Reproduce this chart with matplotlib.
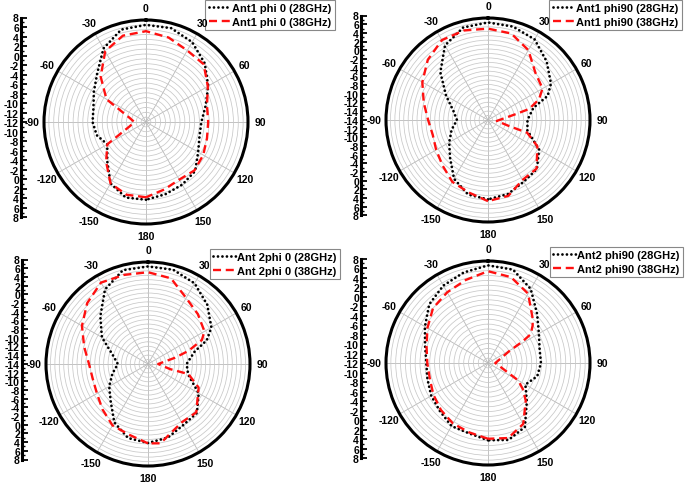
"""
Four polar radiation patterns (Ant1/Ant2, phi 0/90) at 28 and 38 GHz,
drawn Origin-style: radial scale repeated as a vertical axis on the left.
"""

import numpy as np
import matplotlib
matplotlib.use("Agg")
import matplotlib.pyplot as plt
from matplotlib.lines import Line2D

plt.rcParams["font.family"] = ["Liberation Sans", "DejaVu Sans"]
plt.rcParams["font.weight"] = "bold"
plt.rcParams["axes.unicode_minus"] = False

W, H = 685, 485

# --- data: angle in degrees (0 = top, clockwise), gain in dB ---
ANG15 = [-180, -165, -150, -135, -120, -105, -90, -75, -60, -45, -30, -15,
         0, 15, 30, 45, 60, 75, 90, 105, 120, 135, 150, 165, 180]

# Ant1 phi 0
ang_a1p0_28 = ANG15
db_a1p0_28 = [3.0, 3.1, 1.6, -1.7, -3.8, -2.5, -2.0, -1.8, -0.6, 1.2, 4.5, 6.7,
              7.0, 7.0, 6.0, 4.1, 1.8, -0.3, -1.6, -1.6, -0.6, 1.3, 1.9, 2.4, 3.0]
ang_a1p0_38 = ANG15
db_a1p0_38 = [2.5, 2.5, 1.6, -1.4, -3.8, -9.5, -10.6, -9.4, -3.6, 0.2, 3.8, 5.4,
              5.7, 5.0, 4.0, 3.8, 1.7, 0.0, -0.2, 0.0, 0.6, 1.1, 0.7, 1.4, 2.5]

# Ant1 phi 90
ang_a1p90_28 = [-180, -165, -150, -135, -120, -105, -90, -75, -60, -45, -30, -15,
                0, 15, 30, 45, 60, 68, 75, 90, 105, 120, 135, 150, 165, 180]
db_a1p90_28 = [2.9, 2.4, 0.3, -2.9, -4.9, -6.5, -8.0, -6.9, -4.1, 0.2, 4.4, 6.6,
               7.0, 6.8, 6.0, 3.7, 1.4, -0.5, -4.4, -6.1, -5.8, -1.7, 0.6, 1.1, 2.3, 2.9]
ang_a1p90_38 = [-180, -165, -150, -135, -120, -105, -90, -75, -60, -45, -30, -15,
                0, 15, 30, 45, 60, 68, 75, 78, 96, 106, 108, 118, 135, 150, 165, 180]
db_a1p90_38 = [3.3, 1.9, 1.1, -0.5, -1.5, -2.1, -1.5, 0.0, 2.1, 4.2, 5.8, 5.9,
               5.6, 5.2, 3.2, 0.1, -0.8, -2.6, -5.4, -8.6, -13.0, -10.1, -5.7, -2.4,
               0.5, 0.6, 2.7, 3.3]

# Ant2 phi 0
ang_a2p0_28 = [-180, -165, -150, -135, -120, -105, -90, -75, -60, -45, -30, -15,
               0, 15, 30, 45, 60, 68, 75, 90, 105, 120, 135, 150, 165, 180]
db_a2p0_28 = [2.8, 2.3, 0.2, -3.1, -4.9, -6.7, -8.2, -6.7, -3.0, 0.2, 4.4, 6.9,
              7.0, 7.0, 6.0, 3.9, 1.5, -0.7, -4.1, -6.3, -5.6, -1.8, 0.6, 0.9, 2.2, 2.8]
ang_a2p0_38 = [-180, -165, -150, -135, -120, -105, -90, -75, -60, -45, -30, -15,
               0, 15, 30, 45, 60, 66, 72, 77, 90, 103, 104, 115, 135, 150, 165, 171, 180]
db_a2p0_38 = [2.9, 1.5, 1.0, -0.5, -1.7, -2.1, -1.7, -0.1, 2.2, 4.4, 6.2, 5.8,
              5.7, 5.0, 2.2, 0.9, -0.3, -1.7, -5.4, -8.8, -12.7, -9.9, -5.6, -2.4,
              0.4, 0.2, 1.9, 3.1, 2.9]

# Ant2 phi 90
ang_a2p90_28 = ANG15
db_a2p90_28 = [2.9, 2.0, 2.0, 1.0, 0.5, -0.1, -0.3, 0.4, 2.0, 4.1, 5.4, 6.3,
               7.1, 6.9, 4.6, 1.3, -0.9, -2.0, -2.1, -2.5, -4.1, -1.7, 2.2, 3.4, 2.9]
ang_a2p90_38 = [-180, -165, -150, -135, -120, -105, -90, -75, -60, -45, -30, -15,
                0, 15, 30, 45, 50, 56, 58, 61, 75, 90, 100, 110, 120, 127, 135,
                150, 165, 180]
db_a2p90_38 = [2.6, 1.8, 1.4, 0.7, 0.0, -0.6, -0.5, 0.1, 1.4, 3.0, 3.8, 4.7,
               5.9, 5.3, 3.5, 0.0, -1.0, -2.4, -4.5, -8.1, -10.7, -11.5, -11.0, -9.9,
               -5.8, -4.0, -2.0, 1.5, 3.0, 2.6]

labels_a1p0 = ["Ant1 phi 0 (28GHz)", "Ant1 phi 0 (38GHz)"]
labels_a1p90 = ["Ant1 phi90 (28GHz)", "Ant1 phi90 (38GHz)"]
labels_a2p0 = ["Ant 2phi 0 (28GHz)", "Ant 2phi 0 (38GHz)"]
labels_a2p90 = ["Ant2 phi90 (28GHz)", "Ant2 phi90 (38GHz)"]

theta_ticks = [0, 30, 60, 90, 120, 150, 180, 210, 240, 270, 300, 330]
theta_labels = ["0", "30", "60", "90", "120", "150", "180",
                "-150", "-120", "-90", "-60", "-30"]

R_MAX = 8

# --- layout (pixels in the 685x485 canvas) ---
PANELS = [
    dict(c=(146, 123), rmin=-13, axis_x=21, leg=(335, 1),
         s28=(ang_a1p0_28, db_a1p0_28), s38=(ang_a1p0_38, db_a1p0_38), labels=labels_a1p0),
    dict(c=(488, 121), rmin=-15, axis_x=361, leg=(682, 1),
         s28=(ang_a1p90_28, db_a1p90_28), s38=(ang_a1p90_38, db_a1p90_38), labels=labels_a1p90),
    dict(c=(148, 365), rmin=-15, axis_x=22, leg=(340, 250),
         s28=(ang_a2p0_28, db_a2p0_28), s38=(ang_a2p0_38, db_a2p0_38), labels=labels_a2p0),
    dict(c=(488, 364), rmin=-13, axis_x=361, leg=(683, 248),
         s28=(ang_a2p90_28, db_a2p90_28), s38=(ang_a2p90_38, db_a2p90_38), labels=labels_a2p90),
]
RADIUS = 102
LABEL_R = 114  # px from centre to theta label centre

STYLE_28 = dict(color="black", lw=2.0, linestyle=(0, (0.01, 1.6)),
                dash_capstyle="round")
STYLE_38 = dict(color="#ff1010", lw=1.7, linestyle=(0, (3.4, 2.0)),
                dash_capstyle="butt")


def polar_panel(fig, p):
    cx, cy = p["c"]
    rmin = p["rmin"]
    R = RADIUS
    ax = fig.add_axes([(cx - R) / W, 1 - (cy + R) / H, 2 * R / W, 2 * R / H],
                      projection="polar")
    ax.set_theta_zero_location("N")
    ax.set_theta_direction(-1)
    ax.set_ylim(rmin, R_MAX)

    ax.set_yticks(np.arange(rmin + 1, R_MAX))
    ax.set_yticklabels([])
    ax.yaxis.grid(True, color="#c8c8c8", lw=0.55)

    ax.set_xticks(np.deg2rad(theta_ticks))
    ax.set_xticklabels([])
    ax.set_xticks(np.deg2rad(np.arange(15, 360, 30)), minor=True)
    ax.xaxis.grid(True, which="major", color="#b8b8b8", lw=0.6)
    ax.xaxis.grid(False, which="minor")
    ax.tick_params(axis="x", which="major", direction="in", length=5, width=1.3)
    ax.tick_params(axis="x", which="minor", direction="in", length=3, width=1.0)
    ax.spines["polar"].set_linewidth(2.2)

    # theta labels centred on a fixed radius (Origin style)
    f = LABEL_R / (2 * R)
    for t, lab in zip(theta_ticks, theta_labels):
        a = np.deg2rad(t)
        ax.text(0.5 + f * np.sin(a), 0.5 + f * np.cos(a), lab, transform=ax.transAxes,
                ha="center", va="center", fontsize=7.5, fontweight="bold",
                clip_on=False, zorder=10)

    a28, d28 = p["s28"]
    a38, d38 = p["s38"]
    ax.plot(np.deg2rad(a28), d28, **STYLE_28)
    ax.plot(np.deg2rad(a38), d38, **STYLE_38)
    return ax


def left_axis(fig, p):
    cx, cy = p["c"]
    rmin = p["rmin"]
    cyl = cy - 4.5
    hh = 100
    axl = fig.add_axes([p["axis_x"] / W, 1 - (cyl + hh) / H, 0.5 / W, 2 * hh / H])
    span = R_MAX - rmin
    axl.set_ylim(-span, span)
    for s in ["top", "right", "bottom"]:
        axl.spines[s].set_visible(False)
    axl.spines["left"].set_linewidth(2.2)
    axl.patch.set_visible(False)
    axl.set_xticks([])
    vals = np.arange(R_MAX, rmin, -2)
    pos = vals - rmin
    axl.set_yticks(np.concatenate([pos, -pos[::-1]]))
    axl.set_yticklabels([str(v) for v in vals] + [str(v) for v in vals[::-1]])
    axl.set_yticks(np.arange(-span + 1, span, 2), minor=True)
    axl.tick_params(axis="y", which="major", direction="in", length=4, width=1.3,
                    pad=1.5, labelsize=7.5)
    axl.tick_params(axis="y", which="minor", direction="in", length=2.5, width=1.0)
    for lab in axl.get_yticklabels():
        lab.set_fontweight("bold")


def legend(fig, ax, p):
    handles = [Line2D([], [], **STYLE_28), Line2D([], [], **STYLE_38)]
    x1, y0 = p["leg"]
    leg = ax.legend(handles, p["labels"], loc="upper right",
                    bbox_to_anchor=(x1 / W, 1 - y0 / H), bbox_transform=fig.transFigure,
                    handlelength=2.0, handletextpad=0.15,
                    borderpad=0.3, labelspacing=0.3, borderaxespad=0,
                    fancybox=False, framealpha=1, edgecolor="#888888",
                    prop=dict(weight="bold", size=8))
    leg.get_frame().set_linewidth(0.8)


def main():
    fig = plt.figure(figsize=(W / 100, H / 100), dpi=100)
    for p in PANELS:
        ax = polar_panel(fig, p)
        left_axis(fig, p)
        legend(fig, ax, p)
    fig.savefig("out.png", dpi=100)


if __name__ == "__main__":
    main()
